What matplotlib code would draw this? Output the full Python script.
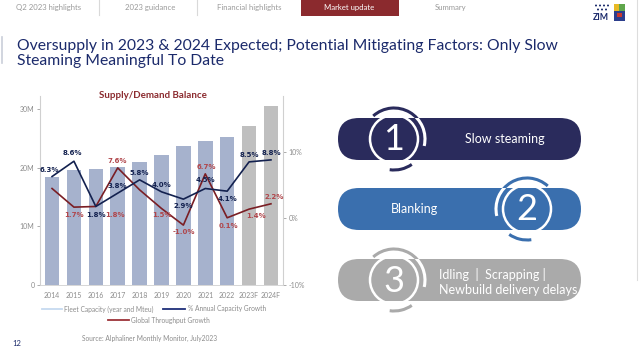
import matplotlib
matplotlib.use("Agg")
import matplotlib.pyplot as plt
from matplotlib.patches import FancyBboxPatch, Rectangle, Arc, Circle
import numpy as np

plt.rcParams['font.family'] = ['Lato', 'DejaVu Sans']

# ---------------- data ----------------
years = ["2014", "2015", "2016", "2017", "2018", "2019", "2020", "2021", "2022", "2023F", "2024F"]
fleet_capacity = [18.5, 19.7, 19.8, 20.2, 21.0, 22.2, 23.8, 24.6, 25.3, 27.2, 30.6]  # Mteu
capacity_growth = [6.3, 8.6, 1.8, 3.8, 5.8, 4.0, 2.9, 4.5, 4.1, 8.5, 8.8]           # %
throughput_growth = [4.5, 1.7, 1.8, 7.6, 4.3, 1.5, -1.0, 6.7, 0.1, 1.4, 2.2]        # %
throughput_labels = [None, "1.7%", "1.8%", "7.6%", None, "1.5%", "-1.0%", "6.7%", "0.1%", "1.4%", "2.2%"]
forecast = [False] * 9 + [True, True]
left_ticks = [0, 10, 20, 30]
left_ticklabels = ["0", "10M", "20M", "30M"]
right_ticks = [-10, 0, 10]
right_ticklabels = ["-10%", "0%", "10%"]

nav_items = ["Q2 2023 highlights", "2023 guidance", "Financial highlights", "Market update", "Summary"]
title_lines = ["Oversupply in 2023 & 2024 Expected; Potential Mitigating Factors: Only Slow",
               "Steaming Meaningful To Date"]
factors = ["Slow steaming", "Blanking", "Idling  |  Scrapping |\nNewbuild delivery delays"]

# ---------------- style ----------------
NAVY = "#1B2A6B"
LINE_NAVY = "#13214F"
DRED = "#8B2A2E"
LINE_RED = "#7A1E24"
BAR = "#A6B2CD"
BAR_F = "#BFBFBF"
GRAY_T = "#8C8C8C"
PILLS = ["#2A2B5C", "#3A6FAE", "#AAAAAA"]
LABEL_FONT = ['DejaVu Sans']

W, H = 640, 352
fig = plt.figure(figsize=(W / 100, H / 100), dpi=100)
fig.patch.set_facecolor("white")

ov = fig.add_axes([0, 0, 1, 1])
ov.set_xlim(0, W)
ov.set_ylim(H, 0)
ov.axis("off")

# ---------- nav bar ----------
nav_x = [49, 150, 249, 349, 451]
for i, (t, x) in enumerate(zip(nav_items, nav_x)):
    if t == "Market update":
        ov.add_patch(Rectangle((301, 0), 98, 15.5, color=DRED, lw=0))
        ov.text(x, 7.5, t, color="white", fontsize=5.6, ha="center", va="center")
    else:
        ov.text(x, 7.5, t, color="#9A9A9A", fontsize=5.6, ha="center", va="center")
for sx in [99, 197]:
    ov.plot([sx, sx], [0, 15], color="#D9D9D9", lw=0.8)

# ZIM logo
for r, n in [(5.5, 4), (9.5, 3)]:
    for k in range(n):
        ov.add_patch(Circle((596 + k * 4 + (4 - n) * 2, r), 1.0, color=NAVY, lw=0))
ov.text(593, 17, "ZIM", color=NAVY, fontsize=6.2, fontweight="bold", ha="left", va="center")
ov.add_patch(Rectangle((614, 4), 6, 8, color="#E8B923", lw=0))
ov.add_patch(Rectangle((619, 4), 6, 8, color="#5FA64B", lw=0))
ov.add_patch(Rectangle((614, 11), 11, 10, color="#2C3E8C", lw=0))
ov.add_patch(Rectangle((617, 13), 5, 4, color="#C8372D", lw=0))
ov.plot([637, 637], [0, 280], color="#DDDDDD", lw=0.8)

# ---------- title ----------
ov.plot([2, 2], [37, 63], color="#C9CED9", lw=1.2)
ov.text(17, 46, title_lines[0], color=NAVY, fontsize=11.3, ha="left", va="center")
ov.text(17, 61, title_lines[1], color=NAVY, fontsize=11.3, ha="left", va="center")

# ---------- chart ----------
ax = fig.add_axes([40 / W, 1 - 285 / H, 243 / W, (285 - 96) / H])
x = np.arange(len(years))
colors = [BAR_F if f else BAR for f in forecast]
ax.bar(x, fleet_capacity, width=0.66, color=colors, zorder=1)
ax.set_xlim(-0.55, len(years) - 0.45)
ax.set_ylim(0, 32.3)
ax.set_yticks(left_ticks)
ax.set_yticklabels(left_ticklabels)
ax.set_xticks(x)
ax.set_xticklabels(years)
ax.tick_params(axis="both", labelsize=5, colors=GRAY_T, length=2, width=0.5, pad=2)
ax.tick_params(axis="x", length=0, pad=5)
for s in ["top", "right"]:
    ax.spines[s].set_visible(False)
ax.spines["left"].set_color("#D0D0D0")
ax.spines["bottom"].set_color("#D0D0D0")
ax.spines["left"].set_linewidth(0.8)
ax.spines["bottom"].set_linewidth(0.6)
ax.patch.set_alpha(0)

ax2 = ax.twinx()
ax2.set_ylim(-10, 18.4)
ax2.set_yticks(right_ticks)
ax2.set_yticklabels(right_ticklabels)
ax2.tick_params(axis="y", labelsize=5, colors=GRAY_T, length=2, width=0.5, pad=2)
for s in ["top", "left", "bottom"]:
    ax2.spines[s].set_visible(False)
ax2.spines["right"].set_color("#D0D0D0")
ax2.spines["right"].set_linewidth(0.8)
ax2.plot(x, capacity_growth, color=LINE_NAVY, lw=1.2, zorder=3)
ax2.plot(x, throughput_growth, color=LINE_RED, lw=1.2, zorder=2)

# data labels (offsets in points)
blue_off = [(-2, 5), (-1, 6), (0, -6), (0, 5), (0, 5), (0, 5), (0, -5), (0, 6), (0, -6), (0, 5), (0, 5)]
red_off = [None, (0, -6), (14, -6), (0, 5), None, (0, -5), (0, -5), (1, 5), (1, -6), (5, -5), (2, 5)]
for i, v in enumerate(capacity_growth):
    dx, dy = blue_off[i]
    ax2.annotate(f"{v:.1f}%", (x[i], v), xytext=(dx, dy), textcoords="offset points",
                 ha="center", va="center", fontsize=5, fontweight="bold", color=LINE_NAVY,
                 family=LABEL_FONT, zorder=5)
for i, v in enumerate(throughput_growth):
    if throughput_labels[i] is None:
        continue
    dx, dy = red_off[i]
    ax2.annotate(throughput_labels[i], (x[i], v), xytext=(dx, dy), textcoords="offset points",
                 ha="center", va="center", fontsize=5, fontweight="bold", color="#B0464B",
                 family=LABEL_FONT, zorder=5)

ov.text(153, 95, "Supply/Demand Balance", color=DRED, fontsize=7, fontweight="bold",
        ha="center", va="center")

# legend
ov.plot([42, 62], [309, 309], color="#C6DAF0", lw=1.3)
ov.text(64, 309, "Fleet Capacity (year and Mteu)", color=GRAY_T, fontsize=4.8, ha="left", va="center")
ov.plot([163, 185], [309, 309], color="#1F2F7A", lw=1.3)
ov.text(188, 309, "% Annual Capacity Growth", color=GRAY_T, fontsize=4.8, ha="left", va="center")
ov.plot([108, 129], [320, 320], color="#9C3338", lw=1.3)
ov.text(131, 320, "Global Throughput Growth", color=GRAY_T, fontsize=4.8, ha="left", va="center")

ov.text(150, 338, "Source: Alphaliner Monthly Monitor, July2023", color=GRAY_T, fontsize=4.8,
        ha="center", va="center")
ov.text(12, 343, "12", color=NAVY, fontsize=5.5, ha="left", va="center")

# ---------- pills ----------
pill_y = [118, 188, 259]
circ_x = [394, 527, 394]
arcs_sets = [[(-13, 132), (262, 305)], [(48, 193), (235, 278)], [(-13, 132), (262, 305)]]
for k in range(3):
    y0 = pill_y[k]
    col = PILLS[k]
    pill = FancyBboxPatch((338, y0), 243, 42, boxstyle="round,pad=0,rounding_size=21",
                          fc=col, ec="none")
    ov.add_patch(pill)
    cx, cy = circ_x[k], y0 + 21
    ov.add_patch(Circle((cx, cy), 24, fill=False, ec="white", lw=1.8))
    for (a1, a2) in arcs_sets[k]:
        ov.add_patch(Arc((cx, cy), 62, 62, theta1=-a2, theta2=-a1, color=col, lw=2.2))
        a = Arc((cx, cy), 62, 62, theta1=-a2, theta2=-a1, color="white", lw=2.2)
        ov.add_patch(a)
        a.set_clip_path(pill)
    ov.text(cx, cy + 1, str(k + 1), color="white", fontsize=26, fontweight="normal",
            ha="center", va="center")

ov.text(505, 139, factors[0], color="white", fontsize=9, ha="center", va="center")
ov.text(415, 209, factors[1], color="white", fontsize=9, ha="center", va="center")
ov.text(439, 282, factors[2], color="white", fontsize=9, ha="left", va="center", linespacing=1.25)

fig.savefig("out.png", dpi=100, facecolor="white")
